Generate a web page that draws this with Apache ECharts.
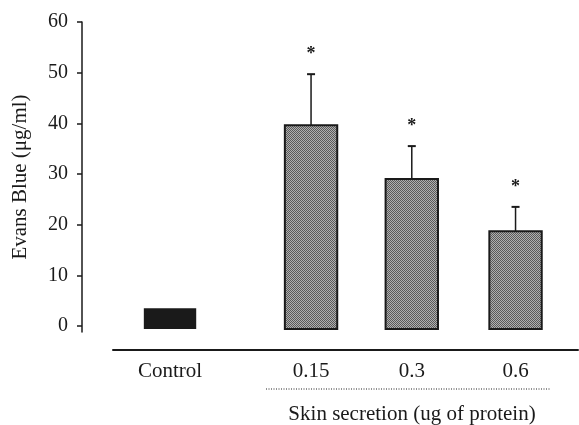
<!DOCTYPE html>
<html>
<head>
<meta charset="utf-8">
<script src="https://cdn.jsdelivr.net/npm/echarts@6/dist/echarts.min.js"></script>
<style>
  html, body { margin: 0; padding: 0; background: #fff; }
  #chart { width: 579px; height: 425px; }
</style>
</head>
<body>
<div id="chart"></div>
<script>
const categories = ['Control', '0.15', '0.3', '0.6']
const xPos = [1, 2.4, 3.4, 4.43]
const values = [3.5, 39.6, 29.0, 18.7]
const errors = [0, 10.1, 6.5, 4.8]
const stars = ['', '*', '*', '*']
const yTicks = [0, 10, 20, 30, 40, 50, 60]

const FONT = 'Liberation Serif'
const INK = '#1a1a1a'
const BAR_BASE = -0.6
const BAR_W = 0.52

// checkered grey fill like the printed figure
const tile = document.createElement('canvas')
tile.width = 2
tile.height = 2
const tctx = tile.getContext('2d')
tctx.fillStyle = '#b0b0b0'
tctx.fillRect(0, 0, 2, 2)
tctx.fillStyle = '#5a5a5a'
tctx.fillRect(0, 0, 1, 1)
tctx.fillRect(1, 1, 1, 1)

const chart = echarts.init(document.getElementById('chart'))

const renderItem = (params, api) => {
  const i = params.dataIndex
  const x = api.value(0)
  const v = api.value(1)
  const e = api.value(2)
  const bottom = api.coord([x, BAR_BASE])
  const top = api.coord([x, v])
  const w = api.size([BAR_W, 0])[0]
  const children = []
  children.push({
    type: 'rect',
    shape: { x: top[0] - w / 2, y: top[1], width: w, height: bottom[1] - top[1] },
    style: i === 0
      ? { fill: INK }
      : { fill: { image: tile, repeat: 'repeat' }, stroke: INK, lineWidth: 2 }
  })
  if (e > 0) {
    const et = api.coord([x, v + e])
    children.push({
      type: 'line',
      shape: { x1: top[0], y1: top[1], x2: et[0], y2: et[1] },
      style: { stroke: INK, lineWidth: 1.5 }
    })
    children.push({
      type: 'line',
      shape: { x1: et[0] - 4, y1: et[1], x2: et[0] + 4, y2: et[1] },
      style: { stroke: INK, lineWidth: 2 }
    })
    children.push({
      type: 'text',
      style: {
        text: stars[i], x: et[0], y: et[1] - 20,
        align: 'center', verticalAlign: 'middle',
        font: 'bold 18px "' + FONT + '"', fill: INK
      }
    })
  }
  return { type: 'group', children }
}

chart.setOption({
  animation: false,
  backgroundColor: '#fff',
  grid: { left: 113, right: 1, top: 22, bottom: 93, outerBoundsMode: 'none' },
  xAxis: {
    type: 'value',
    min: 0.434,
    max: 5.05,
    offset: 18,
    splitLine: { show: false },
    axisTick: { show: false },
    axisLine: { show: true, onZero: false, lineStyle: { color: INK, width: 2 } },
    axisLabel: {
      customValues: xPos,
      formatter: val => categories[xPos.indexOf(val)] || '',
      fontFamily: FONT,
      fontSize: 21,
      color: INK,
      margin: 11
    }
  },
  yAxis: {
    type: 'value',
    min: -1.2,
    max: 60,
    offset: 31,
    splitLine: { show: false },
    axisLine: { show: true, onZero: false, lineStyle: { color: INK, width: 1.5 } },
    axisTick: { show: true, customValues: yTicks, length: 5, lineStyle: { color: INK, width: 1.5 } },
    axisLabel: {
      customValues: yTicks,
      fontFamily: FONT,
      fontSize: 20,
      color: INK,
      margin: 14
    },
    name: 'Evans Blue (μg/ml)',
    nameLocation: 'middle',
    nameGap: 51,
    nameTextStyle: { fontFamily: FONT, fontSize: 21, color: INK }
  },
  graphic: [
    {
      type: 'line',
      shape: { x1: 266, y1: 389, x2: 550, y2: 389 },
      style: { stroke: '#222', lineWidth: 1, lineDash: [1, 1.5] }
    },
    {
      type: 'text',
      x: 412,
      y: 414,
      style: {
        text: 'Skin secretion (ug of protein)',
        align: 'center', verticalAlign: 'middle',
        font: '21px "' + FONT + '"', fill: INK
      }
    }
  ],
  series: [
    {
      type: 'custom',
      renderItem,
      data: xPos.map((x, i) => [x, values[i], errors[i]])
    }
  ]
})
</script>
</body>
</html>
